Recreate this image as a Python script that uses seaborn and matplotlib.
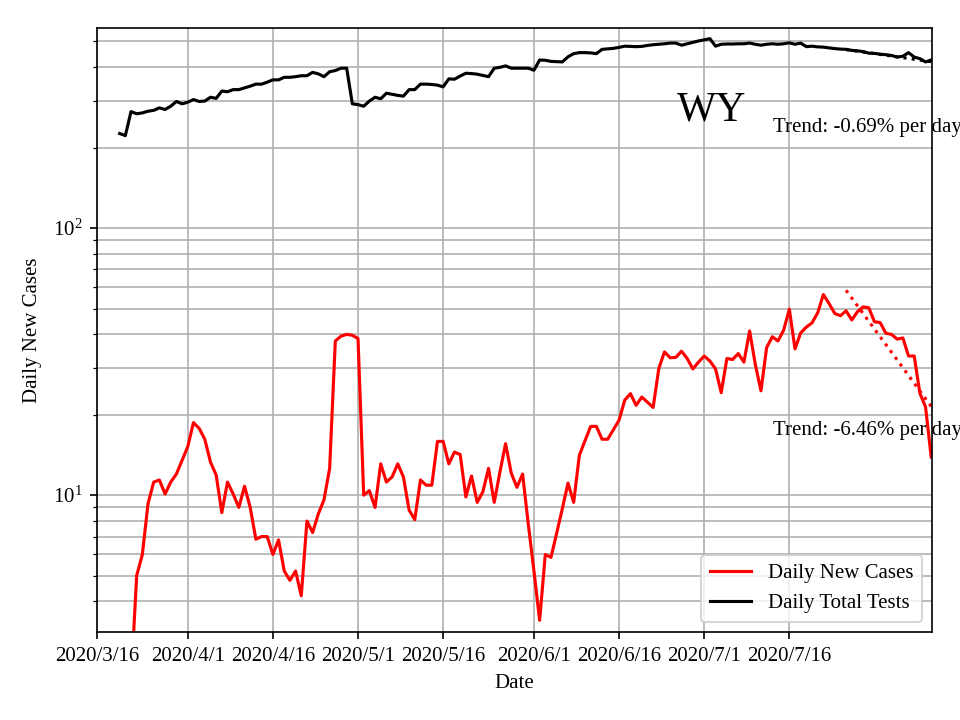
import numpy as np
import pandas as pd
import matplotlib
matplotlib.use("Agg")
import matplotlib.pyplot as plt
import matplotlib.dates as mdates
import seaborn as sns

plt.rcParams['font.family'] = ['Liberation Serif', 'DejaVu Serif']
plt.rcParams['mathtext.fontset'] = 'stix'
plt.rcParams['font.size'] = 10

start_date = "2020-03-20"

daily_new_cases = [
    1, 1, 2, 5.0, 6.0, 9.3, 11.2, 11.4, 10.1, 11.2,
    12.0, 13.5, 15.2, 18.7, 17.8, 16.2, 13.3, 11.9, 8.6, 11.2,
    10.1, 9.0, 10.8, 9.0, 6.84, 7.0, 7.0, 6.0, 6.8, 5.2,
    4.8, 5.2, 4.2, 8.0, 7.25, 8.5, 9.6, 12.6, 37.8, 39.4,
    40.0, 39.7, 38.6, 10.0, 10.4, 9.0, 13.1, 11.2, 11.7, 13.1,
    11.7, 8.8, 8.1, 11.4, 10.9, 10.9, 15.9, 15.9, 13.1, 14.5,
    14.2, 9.85, 11.8, 9.4, 10.3, 12.6, 9.4, 12.2, 15.6, 12.1,
    10.7, 12.0, 7.8, 5.2, 3.4, 6.0, 5.85, 7.2, 8.9, 11.1,
    9.4, 14.1, 16.0, 18.1, 18.1, 16.2, 16.2, 17.6, 19.1, 22.7,
    24.0, 21.7, 23.3, 22.3, 21.3, 29.8, 34.4, 32.7, 32.8, 34.6,
    32.5, 29.7, 31.5, 33.2, 31.8, 29.7, 24.2, 32.5, 32.2, 33.9,
    31.5, 41.2, 30.9, 24.6, 35.7, 39.2, 37.8, 41.5, 49.7, 35.3,
    40.5, 42.6, 44.2, 48.2, 56.4, 52.2, 47.9, 47.0, 49.0, 45.3,
    48.6, 50.7, 50.3, 44.6, 44.3, 40.4, 40.0, 38.4, 38.8, 33.2,
    33.2, 24.1, 21.4, 13.9,
]

daily_total_tests = [
    226, 222, 273, 268, 270, 274, 276, 282, 278, 286,
    298, 292, 296, 303, 298, 299, 309, 306, 326, 324,
    330, 330, 335, 340, 346, 346, 352, 359, 359, 367,
    367, 369, 372, 372, 383, 378, 369, 385, 389, 397,
    397, 292, 290, 286, 299, 309, 305, 320, 317, 314,
    312, 330, 330, 346, 346, 345, 343, 338, 362, 361,
    371, 380, 379, 377, 373, 369, 397, 400, 405, 397,
    397, 397, 397, 390, 426, 425, 421, 420, 419, 438,
    450, 454, 454, 453, 450, 467, 469, 471, 475, 480,
    479, 478, 479, 483, 486, 488, 490, 493, 493, 484,
    490, 496, 502, 507, 512, 480, 488, 489, 489, 490,
    490, 493, 488, 484, 488, 490, 488, 490, 494, 488,
    493, 478, 480, 477, 476, 473, 470, 468, 467, 463,
    461, 458, 452, 451, 448, 446, 443, 437, 440, 454,
    437, 431, 419, 426,
]

trend_dates = ["2020-07-26", "2020-08-10"]
trend_cases = [58.5, 21.5]
trend_tests = [466, 420]

tick_labels = ["2020/3/16", "2020/4/1", "2020/4/16", "2020/5/1", "2020/5/16",
               "2020/6/1", "2020/6/16", "2020/7/1", "2020/7/16"]

dates = pd.date_range(start_date, periods=len(daily_new_cases), freq="D")
df = pd.DataFrame({"Date": dates, "cases": daily_new_cases, "tests": daily_total_tests})
tdf = pd.DataFrame({"Date": pd.to_datetime(trend_dates), "cases": trend_cases, "tests": trend_tests})

fig = plt.figure(figsize=(6.4, 4.8), dpi=150)
ax = fig.add_axes([0.101, 0.122, 0.870, 0.839])

sns.lineplot(data=df, x="Date", y="cases", color="red", lw=1.5, label="Daily New Cases", ax=ax)
sns.lineplot(data=df, x="Date", y="tests", color="black", lw=1.5, label="Daily Total Tests", ax=ax)
sns.lineplot(data=tdf, x="Date", y="cases", color="red", lw=1.5, linestyle=":", ax=ax, legend=False)
sns.lineplot(data=tdf, x="Date", y="tests", color="black", lw=1.5, linestyle=":", ax=ax, legend=False)

ax.set_yscale("log")
ax.set_ylim(3.07, 561)
ax.set_xlim(pd.Timestamp("2020-03-16"), pd.Timestamp("2020-08-10 04:00"))

tick_dates = pd.to_datetime(tick_labels, format="%Y/%m/%d")
ax.set_xticks(tick_dates)
ax.set_xticklabels(tick_labels)

ax.grid(True, which="major", color="#b0b0b0", lw=0.8)
ax.yaxis.grid(True, which="minor", color="#b0b0b0", lw=0.8)

ax.set_xlabel("Date")
ax.set_ylabel("Daily New Cases", labelpad=5)

ax.text(pd.Timestamp("2020-07-02 08:00"), 276, "WY", fontsize=20, ha="center", va="center")
ax.text(pd.Timestamp("2020-07-13 04:00"), 239, "Trend: -0.69% per day", fontsize=10, ha="left", va="center")
ax.text(pd.Timestamp("2020-07-13 04:00"), 17.5, "Trend: -6.46% per day", fontsize=10, ha="left", va="center")

ax.legend(loc="lower right", fontsize=10)

for s in ax.spines.values():
    s.set_color("black")

fig.savefig("out.png", dpi=150)
